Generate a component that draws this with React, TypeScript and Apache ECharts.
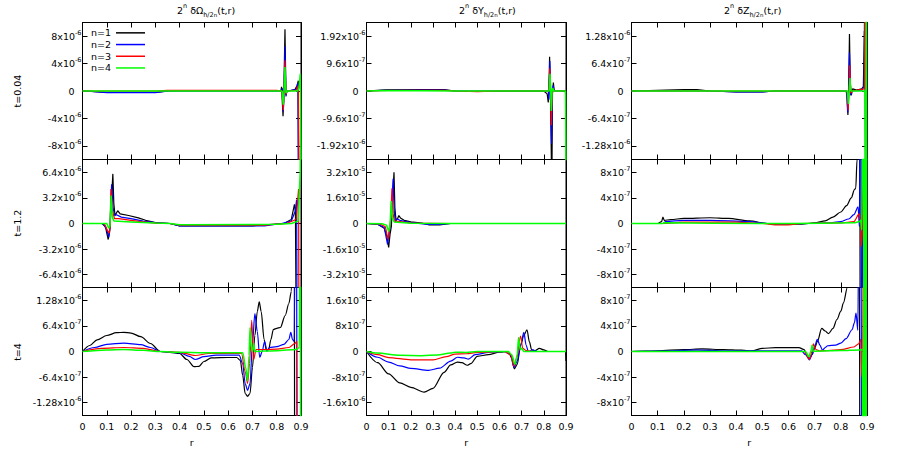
import { useEffect, useRef } from 'react';
import * as echarts from 'echarts';

// ---------- labels ----------
const SERIES_NAMES = ['n=1', 'n=2', 'n=3', 'n=4'];
const SERIES_COLORS = ['#000000', '#0000ff', '#ff0000', '#00ff00'];
const QUANTITIES = ['Ω', 'Y', 'Z'];
const ROW_LABELS = ['t=0.04', 't=1.2', 't=4'];
const X_NAME = 'r';
const R_MIN = 0;
const R_MAX = 0.9;
const R_STEP = 0.1;

// ---------- y ranges / ticks ----------
const Y_LIMIT_OMEGA_T004 = 1e-5;
const Y_TICKS_OMEGA_T004 = [-8e-6, -4e-6, 0, 4e-6, 8e-6];
const Y_LIMIT_OMEGA_T12 = 8e-6;
const Y_TICKS_OMEGA_T12 = [-6.4e-6, -3.2e-6, 0, 3.2e-6, 6.4e-6];
const Y_LIMIT_OMEGA_T4 = 1.6e-6;
const Y_TICKS_OMEGA_T4 = [-1.28e-6, -6.4e-7, 0, 6.4e-7, 1.28e-6];
const Y_LIMIT_Y_T004 = 2.4e-6;
const Y_TICKS_Y_T004 = [-1.92e-6, -9.6e-7, 0, 9.6e-7, 1.92e-6];
const Y_LIMIT_Y_T12 = 4e-5;
const Y_TICKS_Y_T12 = [-3.2e-5, -1.6e-5, 0, 1.6e-5, 3.2e-5];
const Y_LIMIT_Y_T4 = 2e-6;
const Y_TICKS_Y_T4 = [-1.6e-6, -8e-7, 0, 8e-7, 1.6e-6];
const Y_LIMIT_Z_T004 = 1.6e-6;
const Y_TICKS_Z_T004 = [-1.28e-6, -6.4e-7, 0, 6.4e-7, 1.28e-6];
const Y_LIMIT_Z_T12 = 1e-6;
const Y_TICKS_Z_T12 = [-8e-7, -4e-7, 0, 4e-7, 8e-7];
const Y_LIMIT_Z_T4 = 1e-6;
const Y_TICKS_Z_T4 = [-8e-7, -4e-7, 0, 4e-7, 8e-7];

// ---------- data: [r, value] ----------
// Omega, t=0.04
const OMEGA_T004_N1 = [[0, 0], [0.02, 0], [0.05, -1e-7], [0.1, -2e-7], [0.3, -2e-7], [0.33, -1e-7], [0.36, 0], [0.8, 0], [0.817, 0], [0.82, 6e-7], [0.826, -3.7e-6], [0.829, -1e-6], [0.834, 9e-6], [0.838, -6e-7], [0.842, 0], [0.86, 1e-7], [0.875, 2e-7], [0.884, 8e-7], [0.889, 1.5e-6], [0.892, -3e-5]];
const OMEGA_T004_N2 = [[0, 0], [0.05, -1e-7], [0.1, -2.5e-7], [0.3, -2.5e-7], [0.35, 0], [0.82, 0], [0.823, 4e-7], [0.827, -3e-6], [0.83, -5e-7], [0.834, 6.5e-6], [0.838, -8e-7], [0.842, 0], [0.88, 2e-7], [0.887, 1.2e-6], [0.891, -3e-5]];
const OMEGA_T004_N3 = [[0, 0], [0.3, 0], [0.35, 1e-7], [0.8, 1e-7], [0.822, 0], [0.827, -2.8e-6], [0.83, -3e-7], [0.834, 4.5e-6], [0.838, -5e-7], [0.842, 0], [0.88, 1e-7], [0.889, 8e-7], [0.893, -2e-5]];
const OMEGA_T004_N4 = [[0, 0], [0.822, 0], [0.827, -2e-6], [0.83, -2e-7], [0.834, 3.5e-6], [0.838, -3e-7], [0.842, 0], [0.886, 0], [0.892, 5e-7], [0.897, 2.5e-6], [0.9, -1e-5]];
// Omega, t=1.2
const OMEGA_T12_N1 = [[0, 0], [0.08, 0], [0.095, -4e-7], [0.1, -1.2e-6], [0.106, -2e-6], [0.112, -1e-6], [0.118, 2e-6], [0.125, 6.2e-6], [0.129, 2.5e-6], [0.134, 1e-6], [0.145, 1.6e-6], [0.155, 1.2e-6], [0.19, 1e-6], [0.23, 7e-7], [0.26, 4e-7], [0.3, 1e-7], [0.36, 0], [0.4, -3e-7], [0.7, -3e-7], [0.78, -1e-7], [0.83, 0], [0.86, 5e-7], [0.873, 2.4e-6], [0.877, 1.5e-6], [0.884, -3e-5]];
const OMEGA_T12_N2 = [[0, 0], [0.085, 0], [0.1, -8e-7], [0.108, -1.7e-6], [0.113, -5e-7], [0.12, 4.9e-6], [0.126, 2e-6], [0.132, 1e-6], [0.14, 1.1e-6], [0.16, 8e-7], [0.2, 6e-7], [0.25, 3e-7], [0.3, 1e-7], [0.36, 0], [0.4, -3e-7], [0.75, -3e-7], [0.82, 0], [0.86, 3e-7], [0.876, 1.5e-6], [0.882, 3e-6], [0.886, -3e-5]];
const OMEGA_T12_N3 = [[0, 0], [0.09, 0], [0.103, -9e-7], [0.11, -1.2e-6], [0.114, -3e-7], [0.117, 4.3e-6], [0.124, 1.5e-6], [0.132, 6e-7], [0.15, 6e-7], [0.2, 4e-7], [0.25, 2e-7], [0.3, 5e-8], [0.36, 0], [0.4, -2e-7], [0.75, -2e-7], [0.84, 0], [0.88, 5e-7], [0.89, 4.3e-6], [0.893, -3e-5]];
const OMEGA_T12_N4 = [[0, 0], [0.1, 0], [0.108, -6e-7], [0.113, -3e-7], [0.118, 3.5e-6], [0.123, 8e-7], [0.13, 3e-7], [0.2, 2e-7], [0.3, 5e-8], [0.36, 0], [0.4, -1.5e-7], [0.8, -1e-7], [0.86, 0], [0.888, 3e-7], [0.897, 6.6e-6], [0.9, 3e-5]];
// Omega, t=4
const OMEGA_T4_N1 = [[0, 0], [0.03, 1.5e-7], [0.06, 2.9e-7], [0.1, 4e-7], [0.14, 4.7e-7], [0.17, 4.8e-7], [0.2, 4.6e-7], [0.24, 3.7e-7], [0.28, 2e-7], [0.32, 0], [0.36, -2e-8], [0.4, -5e-8], [0.43, -2e-7], [0.46, -3.8e-7], [0.48, -3.7e-7], [0.5, -2.5e-7], [0.53, -1.6e-7], [0.6, -1.5e-7], [0.635, -1.5e-7], [0.65, -2.2e-7], [0.66, -6e-7], [0.67, -1.05e-6], [0.68, -1.12e-6], [0.69, -1.05e-6], [0.7, -4e-7], [0.71, 4e-7], [0.72, 1e-6], [0.728, 1.24e-6], [0.736, 1e-6], [0.748, 3e-7], [0.758, 2e-8], [0.767, 5e-8], [0.776, 3e-7], [0.786, 5.5e-7], [0.8, 5.8e-7], [0.815, 6e-7], [0.835, 9e-7], [0.85, 1.2e-6], [0.86, 1.5e-6], [0.866, 3e-6], [0.872, 5e-6], [0.874, -5e-6]];
const OMEGA_T4_N2 = [[0, 0], [0.05, 1e-7], [0.1, 1.8e-7], [0.17, 2.1e-7], [0.24, 1.7e-7], [0.28, 1e-7], [0.32, 0], [0.4, -3e-8], [0.44, -1.2e-7], [0.465, -2e-7], [0.5, -1.3e-7], [0.55, -9e-8], [0.645, -9e-8], [0.66, -3e-7], [0.67, -8e-7], [0.68, -9.7e-7], [0.69, -8e-7], [0.7, 2e-7], [0.71, 9.5e-7], [0.72, 5e-7], [0.73, -1.5e-7], [0.74, 0], [0.75, 2.5e-7], [0.76, 1e-8], [0.77, 1e-7], [0.8, 1.2e-7], [0.83, 1.8e-7], [0.85, 3e-7], [0.858, 4.8e-7], [0.865, 3e-7], [0.872, 2.5e-7], [0.878, 5e-6], [0.881, 5e-6], [0.884, -5e-6]];
const OMEGA_T4_N3 = [[0, 0], [0.08, 8e-8], [0.17, 1e-7], [0.25, 8e-8], [0.32, 0], [0.4, -2e-8], [0.465, -1e-7], [0.52, -5e-8], [0.655, -5e-8], [0.67, -5e-7], [0.68, -8e-7], [0.688, -3e-7], [0.697, 7.8e-7], [0.705, -2e-7], [0.715, 5e-8], [0.75, 5e-8], [0.8, 6e-8], [0.85, 1e-7], [0.875, 2e-7], [0.882, 2.5e-7], [0.886, -5e-6]];
const OMEGA_T4_N4 = [[0, 0], [0.1, 4e-8], [0.17, 5e-8], [0.25, 3e-8], [0.32, 0], [0.4, -2e-8], [0.5, -3e-8], [0.66, -3e-8], [0.672, -4e-7], [0.68, -7.4e-7], [0.686, -1e-7], [0.69, 6e-7], [0.695, 1e-7], [0.7, 0], [0.705, 2e-7], [0.71, 0], [0.75, 1e-8], [0.8, 2e-8], [0.88, 5e-8], [0.893, 1e-7], [0.897, 5e-6], [0.899, -5e-6]];
// Y, t=0.04
const Y_T004_N1 = [[0, 0], [0.1, 5e-8], [0.35, 5e-8], [0.4, 0], [0.5, -1e-8], [0.8, 0], [0.815, -1e-7], [0.82, -4e-7], [0.823, 1e-7], [0.826, 1.2e-6], [0.83, -2e-7], [0.836, -3.5e-6], [0.839, -1e-7], [0.843, 3e-7], [0.847, 0], [0.897, 0], [0.9, -3e-7]];
const Y_T004_N2 = [[0, 0], [0.1, 3e-8], [0.35, 3e-8], [0.4, 0], [0.82, 0], [0.823, -3e-7], [0.827, 1.05e-6], [0.831, -1e-7], [0.835, -1.85e-6], [0.838, -1e-7], [0.842, 2e-7], [0.846, 0], [0.9, 0]];
const Y_T004_N3 = [[0, 0], [0.1, 2e-8], [0.35, 2e-8], [0.4, 0], [0.5, -2e-8], [0.6, 0], [0.823, 0], [0.827, 8e-7], [0.831, 0], [0.834, -1.2e-6], [0.837, -1e-7], [0.84, 1e-7], [0.845, 0], [0.9, 0]];
const Y_T004_N4 = [[0, 0], [0.1, 2e-8], [0.4, 0], [0.824, 0], [0.828, 6e-7], [0.831, 0], [0.834, -7e-7], [0.837, 0], [0.84, 1e-7], [0.845, 0], [0.898, 0], [0.9, -3e-6]];
// Y, t=1.2
const Y_T12_N1 = [[0, 0], [0.05, -5e-7], [0.08, -3e-6], [0.092, -8e-6], [0.1, -1.5e-5], [0.106, -7e-6], [0.112, -2e-6], [0.118, 1.5e-5], [0.124, 3.2e-5], [0.128, 1e-5], [0.133, 2e-6], [0.14, 3e-6], [0.146, 5e-6], [0.153, 3.5e-6], [0.17, 2e-6], [0.2, 1e-6], [0.25, 2e-7], [0.28, -8e-7], [0.33, -8e-7], [0.38, 0], [0.9, 0]];
const Y_T12_N2 = [[0, 0], [0.05, -4e-7], [0.08, -2.5e-6], [0.095, -1.3e-5], [0.102, -6e-6], [0.108, -1e-6], [0.114, 1e-5], [0.12, 2.8e-5], [0.125, 8e-6], [0.13, 1e-6], [0.137, 3e-6], [0.15, 2e-6], [0.2, 5e-7], [0.28, -5e-7], [0.33, -5e-7], [0.38, 0], [0.9, 0]];
const Y_T12_N3 = [[0, 0], [0.06, -3e-7], [0.085, -2e-6], [0.097, -1e-5], [0.103, -4e-6], [0.109, 2e-6], [0.115, 2.2e-5], [0.12, 6e-6], [0.126, 1.5e-6], [0.135, 1.5e-6], [0.2, 3e-7], [0.38, 0], [0.9, 0]];
const Y_T12_N4 = [[0, 0], [0.07, -2e-7], [0.09, -1e-6], [0.1, -5e-6], [0.106, -1e-6], [0.112, 1.4e-5], [0.117, 3e-6], [0.125, 1e-6], [0.2, 2e-7], [0.38, 0], [0.9, 0]];
// Y, t=4
const Y_T4_N1 = [[0, 0], [0.05, -3.5e-7], [0.1, -7e-7], [0.15, -9.8e-7], [0.2, -1.12e-6], [0.26, -1.27e-6], [0.3, -1.15e-6], [0.35, -6.5e-7], [0.38, -4.2e-7], [0.41, -3.3e-7], [0.43, -3.5e-7], [0.455, -4.3e-7], [0.47, -3.8e-7], [0.5, -1.5e-7], [0.55, -1e-7], [0.6, -2e-8], [0.64, 0], [0.655, -2e-7], [0.667, -5.4e-7], [0.68, -4e-7], [0.695, 2e-7], [0.71, 5e-7], [0.724, 6.8e-7], [0.735, 3e-7], [0.745, 5e-8], [0.76, 2e-8], [0.78, 1e-7], [0.8, 5e-8], [0.82, 0], [0.898, 0], [0.9, -3e-7]];
const Y_T4_N2 = [[0, 0], [0.05, -1.8e-7], [0.1, -3.3e-7], [0.15, -4.5e-7], [0.2, -5.3e-7], [0.28, -5.9e-7], [0.33, -5.2e-7], [0.38, -3e-7], [0.41, -1.8e-7], [0.44, -2e-7], [0.46, -2.4e-7], [0.49, -1e-7], [0.55, -3e-8], [0.62, 0], [0.65, -1e-7], [0.665, -5e-7], [0.68, -3e-7], [0.695, 2e-7], [0.71, 6e-7], [0.72, 2e-7], [0.73, 0], [0.75, 5e-8], [0.77, 0], [0.9, 0]];
const Y_T4_N3 = [[0, 0], [0.05, -1e-7], [0.1, -1.9e-7], [0.2, -2.6e-7], [0.3, -2.6e-7], [0.36, -1.6e-7], [0.4, -8e-8], [0.45, -7e-8], [0.5, -3e-8], [0.62, 0], [0.65, -1e-7], [0.665, -4.6e-7], [0.678, -2e-7], [0.695, 4.8e-7], [0.705, 1e-7], [0.72, 3e-8], [0.75, 0], [0.9, 0]];
const Y_T4_N4 = [[0, 0], [0.05, -5e-8], [0.15, -1.2e-7], [0.25, -1.3e-7], [0.32, -1.1e-7], [0.38, -5e-8], [0.4, -2e-8], [0.45, -3e-8], [0.5, 0], [0.64, 0], [0.655, -1e-7], [0.67, -4e-7], [0.68, -1e-7], [0.686, 4.4e-7], [0.693, 5e-8], [0.7, 1e-7], [0.71, 0], [0.9, 0]];
// Z, t=0.04
const Z_T004_N1 = [[0, 0], [0.2, 3e-8], [0.25, 3e-8], [0.3, 0], [0.4, -2e-8], [0.5, -2e-8], [0.55, 0], [0.82, 0], [0.824, -1e-7], [0.827, -5.6e-7], [0.83, 0], [0.833, 1.33e-6], [0.836, 2e-7], [0.84, -1e-7], [0.845, 5e-8], [0.86, 2e-8], [0.88, 5e-8], [0.886, 1e-7], [0.89, 1.4e-6], [0.893, -1e-7], [0.896, -5e-6]];
const Z_T004_N2 = [[0, 0], [0.3, 0], [0.4, -2e-8], [0.5, -2e-8], [0.55, 0], [0.822, 0], [0.826, -5e-7], [0.829, -1e-7], [0.833, 9e-7], [0.837, -1e-7], [0.842, 0], [0.88, 2e-8], [0.889, 1e-7], [0.893, 5e-6], [0.896, -5e-6]];
const Z_T004_N3 = [[0, 0], [0.824, 0], [0.828, -4.5e-7], [0.831, 0], [0.834, 6e-7], [0.838, -5e-8], [0.842, 0], [0.89, 5e-8], [0.895, 5e-6], [0.898, -5e-6]];
const Z_T004_N4 = [[0, 0], [0.825, 0], [0.829, -3e-7], [0.832, 0], [0.835, 3e-7], [0.838, 0], [0.892, 0], [0.895, -5e-6], [0.897, 5e-6], [0.899, -5e-6]];
// Z, t=1.2
const Z_T12_N1 = [[0, 0], [0.1, 0], [0.115, 3e-8], [0.12, 1e-7], [0.125, 5e-8], [0.15, 6e-8], [0.2, 8e-8], [0.3, 9e-8], [0.37, 8e-8], [0.45, 4e-8], [0.52, 0], [0.55, -1e-8], [0.65, -1e-8], [0.7, 1e-8], [0.74, 4e-8], [0.77, 1e-7], [0.8, 1.8e-7], [0.822, 2.8e-7], [0.84, 4e-7], [0.852, 5.3e-7], [0.857, 5.5e-7], [0.862, 1e-6], [0.866, 3e-6], [0.872, 3e-6], [0.874, -3e-6]];
const Z_T12_N2 = [[0, 0], [0.12, 0], [0.13, 3e-8], [0.2, 5e-8], [0.3, 5e-8], [0.45, 3e-8], [0.52, 0], [0.55, -1e-8], [0.68, 0], [0.75, 1e-8], [0.8, 3e-8], [0.83, 7e-8], [0.85, 1.4e-7], [0.866, 2.6e-7], [0.871, -5e-8], [0.874, 3e-6], [0.877, 3e-6], [0.879, -3e-6], [0.882, -3e-6], [0.884, 3e-6]];
const Z_T12_N3 = [[0, 0], [0.12, 0], [0.2, 2e-8], [0.4, 2e-8], [0.5, 0], [0.55, -2e-8], [0.6, -2e-8], [0.65, 0], [0.8, 1e-8], [0.85, 3e-8], [0.87, 1.5e-7], [0.875, 5e-8], [0.879, -3.6e-7], [0.883, -1e-7], [0.886, 3e-6], [0.889, -3e-6]];
const Z_T12_N4 = [[0, 0], [0.12, 0], [0.125, 1e-8], [0.5, 0], [0.6, 0], [0.85, 1e-8], [0.872, 3e-8], [0.876, 5e-8], [0.88, -1e-7], [0.886, 3e-6], [0.889, -3e-6], [0.893, 3e-6], [0.896, -3e-6], [0.899, 3e-6]];
// Z, t=4
const Z_T4_N1 = [[0, 0], [0.05, 5e-9], [0.1, 1e-8], [0.2, 3e-8], [0.27, 4e-8], [0.35, 3e-8], [0.42, 2e-8], [0.46, 1e-8], [0.5, 5e-8], [0.55, 6e-8], [0.64, 6e-8], [0.66, 3e-8], [0.67, -5e-8], [0.68, -1.1e-7], [0.69, -5e-8], [0.7, 5e-8], [0.71, 1.5e-7], [0.727, 3.6e-7], [0.74, 3.2e-7], [0.753, 2.8e-7], [0.77, 3.6e-7], [0.785, 5e-7], [0.8, 6.3e-7], [0.81, 7.6e-7], [0.825, 1e-6], [0.835, 1.5e-6], [0.87, 3e-6], [0.873, -3e-6]];
const Z_T4_N2 = [[0, 0], [0.1, 5e-9], [0.25, 2e-8], [0.4, 1e-8], [0.5, 1e-8], [0.65, 1e-8], [0.665, -5e-8], [0.68, -1.3e-7], [0.69, -5e-8], [0.7, 8e-8], [0.71, 1.9e-7], [0.72, 1e-7], [0.73, 2e-8], [0.74, 6e-8], [0.75, 9e-8], [0.78, 1e-7], [0.8, 1.3e-7], [0.82, 2e-7], [0.843, 3.4e-7], [0.852, 4.5e-7], [0.858, 6e-7], [0.865, 3.3e-7], [0.87, 3e-6], [0.876, 3e-6], [0.88, -3e-6]];
const Z_T4_N3 = [[0, 0], [0.5, 0], [0.66, 0], [0.68, -1.2e-7], [0.69, 0], [0.695, 1.2e-7], [0.705, 3e-8], [0.72, 1e-8], [0.75, 1.5e-8], [0.8, 3e-8], [0.85, 7e-8], [0.868, 1.2e-7], [0.876, 1.9e-7], [0.88, -3.9e-7], [0.884, -1e-7], [0.886, 3e-6]];
const Z_T4_N4 = [[0, 0], [0.6, 0], [0.665, 0], [0.678, -8e-8], [0.686, 1e-8], [0.69, 1e-7], [0.695, 0], [0.7, 5e-9], [0.8, 1.5e-8], [0.87, 2.5e-8], [0.882, 3e-8], [0.886, -3e-6], [0.889, 3e-6], [0.892, -3e-6], [0.895, 3e-6], [0.898, -3e-6]];

// ---------- panels (row, col) ----------
const PANELS = [
  { row: 0, col: 0, limit: Y_LIMIT_OMEGA_T004, ticks: Y_TICKS_OMEGA_T004, lines: [OMEGA_T004_N1, OMEGA_T004_N2, OMEGA_T004_N3, OMEGA_T004_N4] },
  { row: 1, col: 0, limit: Y_LIMIT_OMEGA_T12, ticks: Y_TICKS_OMEGA_T12, lines: [OMEGA_T12_N1, OMEGA_T12_N2, OMEGA_T12_N3, OMEGA_T12_N4] },
  { row: 2, col: 0, limit: Y_LIMIT_OMEGA_T4, ticks: Y_TICKS_OMEGA_T4, lines: [OMEGA_T4_N1, OMEGA_T4_N2, OMEGA_T4_N3, OMEGA_T4_N4] },
  { row: 0, col: 1, limit: Y_LIMIT_Y_T004, ticks: Y_TICKS_Y_T004, lines: [Y_T004_N1, Y_T004_N2, Y_T004_N3, Y_T004_N4] },
  { row: 1, col: 1, limit: Y_LIMIT_Y_T12, ticks: Y_TICKS_Y_T12, lines: [Y_T12_N1, Y_T12_N2, Y_T12_N3, Y_T12_N4] },
  { row: 2, col: 1, limit: Y_LIMIT_Y_T4, ticks: Y_TICKS_Y_T4, lines: [Y_T4_N1, Y_T4_N2, Y_T4_N3, Y_T4_N4] },
  { row: 0, col: 2, limit: Y_LIMIT_Z_T004, ticks: Y_TICKS_Z_T004, lines: [Z_T004_N1, Z_T004_N2, Z_T004_N3, Z_T004_N4] },
  { row: 1, col: 2, limit: Y_LIMIT_Z_T12, ticks: Y_TICKS_Z_T12, lines: [Z_T12_N1, Z_T12_N2, Z_T12_N3, Z_T12_N4] },
  { row: 2, col: 2, limit: Y_LIMIT_Z_T4, ticks: Y_TICKS_Z_T4, lines: [Z_T4_N1, Z_T4_N2, Z_T4_N3, Z_T4_N4] },
];

// ---------- layout ----------
const FONT = 'DejaVu Sans';
const FS = 9.5;
const COL_LEFT = [82.5, 366.5, 631.5];
const COL_WIDTH = [218.5, 199.5, 235.5];
const ROW_TOP = [22.5, 159.5, 287.5];
const ROW_HEIGHT = [137, 128, 128];
const TITLE_LEFT = [177, 459, 724];
const ROW_LABEL_X = 17;
const ROW_LABEL_Y = [91, 223, 352];

function formatY(v: number): string {
  if (Math.abs(v) < 1e-15) return '{z|0}';
  const e = Math.floor(Math.log10(Math.abs(v)) + 1e-9);
  const m = parseFloat((v / Math.pow(10, e)).toPrecision(3));
  return `{b|${m}x10}{s|${e}}`;
}

const Y_RICH = {
  b: { fontSize: FS, fontFamily: FONT, color: '#000', lineHeight: 14 },
  s: { fontSize: 6.5, fontFamily: FONT, color: '#000', lineHeight: 7, verticalAlign: 'top' },
  z: { fontSize: FS, fontFamily: FONT, color: '#000', lineHeight: 14, padding: [0, 7, 0, 0] },
};

const TITLE_RICH = {
  a: { fontSize: FS, fontFamily: FONT, color: '#000', lineHeight: 16 },
  p: { fontSize: 6.5, fontFamily: FONT, color: '#000', lineHeight: 9, verticalAlign: 'top' },
  q: { fontSize: 6.5, fontFamily: FONT, color: '#000', lineHeight: 9, verticalAlign: 'bottom' },
  r: { fontSize: 5.5, fontFamily: FONT, color: '#000', lineHeight: 13, verticalAlign: 'bottom' },
};

export default function App() {
  const ref = useRef<HTMLDivElement>(null);
  useEffect(() => {
    if (!ref.current) return;
    const chart = echarts.init(ref.current, undefined, { renderer: 'svg' });
    const grid: any[] = [];
    const xAxis: any[] = [];
    const yAxis: any[] = [];
    const series: any[] = [];
    PANELS.forEach((p, i) => {
      grid.push({
        left: COL_LEFT[p.col], top: ROW_TOP[p.row], width: COL_WIDTH[p.col], height: ROW_HEIGHT[p.row],
        show: true, borderColor: '#000', borderWidth: 1, backgroundColor: 'transparent', containLabel: false,
      });
      const isBottom = p.row === 2;
      const smoothPanel = p.row === 2 || (p.row === 1 && p.col === 2);
      const xBase = {
        gridIndex: i, type: 'value', min: R_MIN, max: R_MAX, interval: R_STEP,
        axisLine: { show: true, onZero: false, lineStyle: { color: '#000', width: 1 } },
        axisTick: { show: true, inside: true, length: 5, lineStyle: { color: '#000' } },
        splitLine: { show: false },
      };
      xAxis.push({
        ...xBase, position: 'bottom',
        axisLabel: { show: isBottom, margin: 6, fontSize: FS, fontFamily: FONT, color: '#000', showMinLabel: true, showMaxLabel: true },
        name: isBottom ? X_NAME : '', nameLocation: 'middle', nameGap: 22,
        nameTextStyle: { fontSize: FS, fontFamily: FONT, color: '#000' },
      });
      xAxis.push({ ...xBase, position: 'top', axisLabel: { show: false } });
      const yBase = {
        gridIndex: i, type: 'value', min: -p.limit, max: p.limit,
        axisLine: { show: true, onZero: false, lineStyle: { color: '#000', width: 1 } },
        axisTick: { show: true, inside: true, length: 5, lineStyle: { color: '#000' }, customValues: p.ticks },
        splitLine: { show: false },
      };
      yAxis.push({
        ...yBase, position: 'left',
        axisLabel: { show: true, margin: 1, customValues: p.ticks, formatter: formatY, rich: Y_RICH },
      });
      yAxis.push({ ...yBase, position: 'right', axisLabel: { show: false } });
      p.lines.forEach((d, k) => {
        series.push({
          type: 'line', name: SERIES_NAMES[k], xAxisIndex: 2 * i, yAxisIndex: 2 * i,
          data: d, showSymbol: false, symbol: 'none', clip: true, silent: true,
          smooth: smoothPanel ? 0.3 : false, smoothMonotone: 'x',
          color: SERIES_COLORS[k],
          lineStyle: { color: SERIES_COLORS[k], width: k === 3 ? 1.5 : 1.2 },
          z: 2 + k,
        });
      });
    });
    const title = QUANTITIES.map((q, j) => ({
      text: `{a|2}{p|n}{a| δ${q}}{q|h/2}{r|n}{a|(t,r)}`,
      left: TITLE_LEFT[j], top: 2, padding: 0,
      textStyle: { fontSize: FS, fontFamily: FONT, color: '#000', fontWeight: 'normal', rich: TITLE_RICH },
    }));
    const graphic = ROW_LABELS.map((t, i) => ({
      type: 'text', x: ROW_LABEL_X, y: ROW_LABEL_Y[i], rotation: Math.PI / 2, silent: true,
      style: { text: t, fontSize: FS, fontFamily: FONT, fill: '#000', textAlign: 'center', textVerticalAlign: 'middle' },
    }));
    chart.setOption({
      animation: false,
      backgroundColor: '#fff',
      title,
      grid, xAxis, yAxis, series, graphic,
      legend: {
        data: SERIES_NAMES, orient: 'vertical', left: 91, top: 27, align: 'right',
        itemWidth: 29, itemHeight: 1.5, itemGap: 0, icon: 'rect', selectedMode: false, padding: 0,
        textStyle: { fontSize: FS, fontFamily: FONT, color: '#000', lineHeight: 11.7, padding: [0, 0, 0, 0] },
      },
    });
    return () => chart.dispose();
  }, []);
  return <div ref={ref} style={{ position: 'absolute', left: 0, top: 0, width: 913, height: 457 }} />;
}
